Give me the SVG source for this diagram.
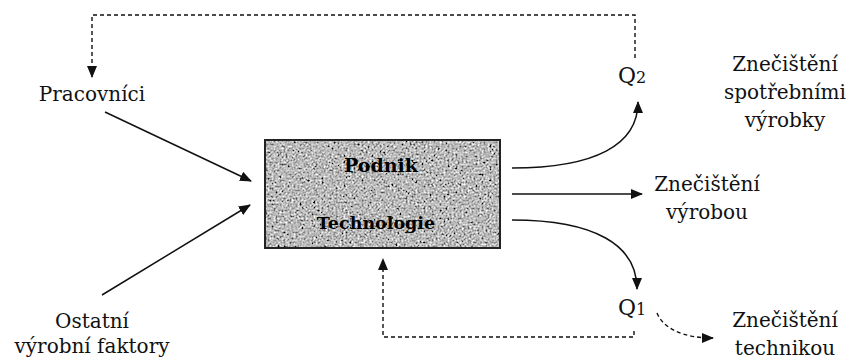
<svg xmlns="http://www.w3.org/2000/svg" width="849" height="361" viewBox="0 0 849 361">
  <style>
    text { font-family: "DejaVu Serif", "Liberation Serif", serif; }
    .lbl { font-size: 20px; fill: #111; text-anchor: middle; }
    .box-lbl { font-size: 19px; font-weight: bold; fill: #000; text-anchor: middle; }
    .q { font-size: 22px; fill: #111; }
    .flow { fill: none; stroke: #111; stroke-width: 1.5; }
    .fb { fill: none; stroke: #111; stroke-width: 1.4; stroke-dasharray: 4 3; }
  </style>
  <defs>
    <marker id="ah" markerUnits="userSpaceOnUse" markerWidth="12" markerHeight="10" refX="11" refY="5" orient="auto">
      <path d="M0,0 L12,5 L0,10 Z" fill="#111"/>
    </marker>
    <filter id="grain" x="0" y="0" width="100%" height="100%">
      <feTurbulence type="fractalNoise" baseFrequency="0.5" numOctaves="2" seed="7" result="n"/>
      <feColorMatrix in="n" type="matrix" values="0.33 0.33 0.33 0 0  0.33 0.33 0.33 0 0  0.33 0.33 0.33 0 0  0 0 0 0 1" result="g"/>
      <feComponentTransfer in="g" result="c">
        <feFuncR type="linear" slope="2.8" intercept="-0.9"/>
        <feFuncG type="linear" slope="2.8" intercept="-0.9"/>
        <feFuncB type="linear" slope="2.8" intercept="-0.9"/>
      </feComponentTransfer>
      <feComposite in="c" in2="SourceGraphic" operator="in"/>
    </filter>
  </defs>

  <!-- central process box -->
  <g id="podnik">
    <rect x="265" y="140" width="235" height="108" fill="#888"/>
    <rect x="265" y="140" width="235" height="108" fill="#888" filter="url(#grain)"/>
    <rect x="265" y="140" width="235" height="108" fill="none" stroke="#222" stroke-width="2"/>
    <text class="box-lbl" x="381" y="172">Podnik</text>
    <text class="box-lbl" x="376" y="229" style="font-size:17.5px">Technologie</text>
  </g>

  <g id="pracovnici">
    <text class="lbl" x="92" y="101">Pracovníci</text>
  </g>

  <g id="ostatni">
    <text class="lbl" x="92" y="328">Ostatní</text>
    <text class="lbl" x="92" y="353">výrobní faktory</text>
  </g>

  <g id="q2">
    <text class="q" x="618" y="83">Q<tspan style="font-size:16px">2</tspan></text>
  </g>

  <g id="q1">
    <text class="q" x="618" y="315">Q<tspan style="font-size:16px">1</tspan></text>
  </g>

  <g id="zn-vyrobky">
    <text class="lbl" x="785" y="71">Znečištění</text>
    <text class="lbl" x="785" y="99">spotřebními</text>
    <text class="lbl" x="785" y="127">výrobky</text>
  </g>

  <g id="zn-vyrobou">
    <text class="lbl" x="707" y="191">Znečištění</text>
    <text class="lbl" x="707" y="219">výrobou</text>
  </g>

  <g id="zn-technikou">
    <text class="lbl" x="785" y="327">Znečištění</text>
    <text class="lbl" x="785" y="355">technikou</text>
  </g>

  <g id="connectors">
    <!-- inputs -->
    <path class="flow" d="M105,112 L251,181" marker-end="url(#ah)"/>
    <path class="flow" d="M102,295 L250,205" marker-end="url(#ah)"/>
    <!-- outputs -->
    <path class="flow" d="M512,168 C595,168 638,145 638,102" marker-end="url(#ah)"/>
    <path class="flow" d="M512,194 L642,194" marker-end="url(#ah)"/>
    <path class="flow" d="M512,220 C595,220 637,245 637,289" marker-end="url(#ah)"/>
    <!-- feedback loops -->
    <path class="fb" d="M635,58 L635,15 L92,15 L92,77" marker-end="url(#ah)"/>
    <path class="fb" d="M634,331 L634,337 L383,337 L383,259" marker-end="url(#ah)"/>
    <path class="fb" d="M657,313 C663,328 682,338 713,338" marker-end="url(#ah)"/>
  </g>
</svg>
